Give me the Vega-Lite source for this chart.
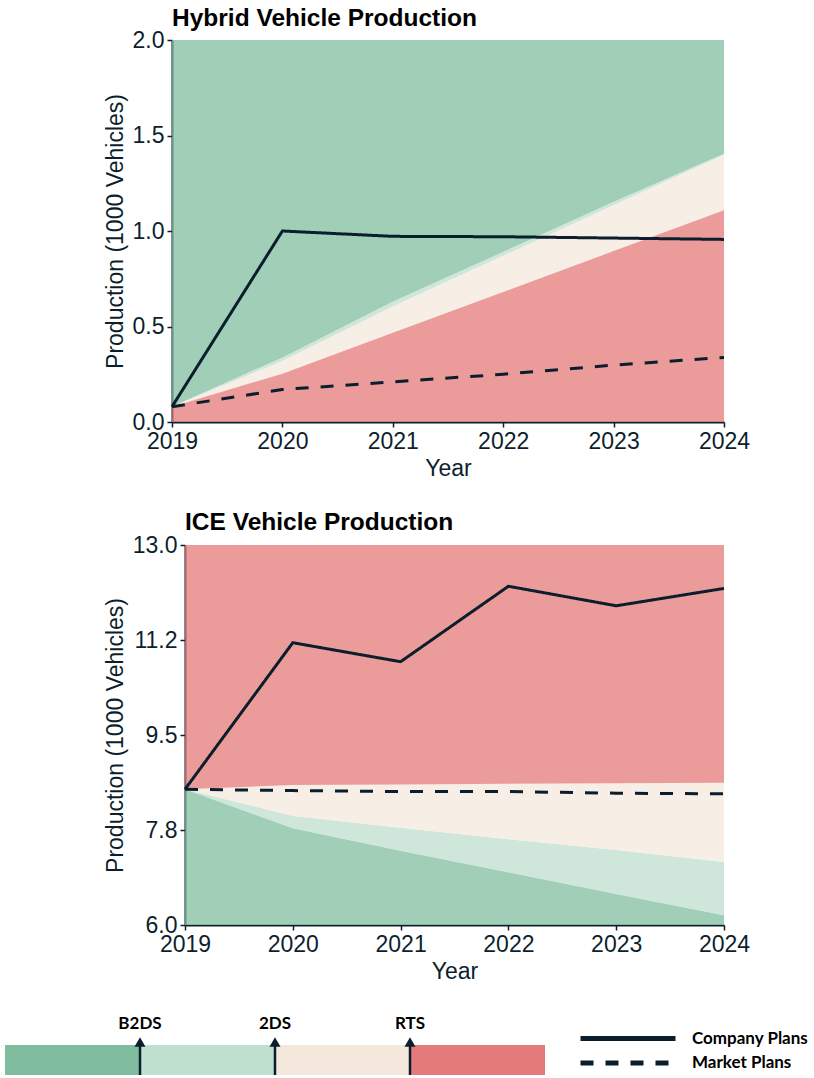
{
  "$schema": "https://vega.github.io/schema/vega-lite/v6.json",
  "background": "white",
  "padding": {"left": 5, "top": 5, "right": 5, "bottom": 3},
  "spacing": 29,
  "config": {
    "view": {"stroke": null},
    "font": "Liberation Sans",
    "axis": {
      "labelFont": "Liberation Sans", "labelFontSize": 23, "labelColor": "#0d1f2d", "labelFlush": false,
      "titleFont": "Liberation Sans", "titleFontSize": 23, "titleFontWeight": "normal", "titleColor": "#0d1f2d",
      "domainColor": "#0d1f2d", "domainWidth": 2, "tickColor": "#0d1f2d", "tickWidth": 1.5, "tickSize": 5,
      "grid": false, "labelPadding": 3
    },
    "title": {"font": "Liberation Sans", "fontSize": 24.5, "fontWeight": "bold", "anchor": "start", "color": "#000000", "baseline": "alphabetic", "frame": "group"}
  },
  "datasets": {
    "hybridBands": [
      {"year": 2019, "band": "Beyond B2DS", "lo": 0.08, "hi": 2.0},
      {"year": 2020, "band": "Beyond B2DS", "lo": 0.337, "hi": 2.0},
      {"year": 2021, "band": "Beyond B2DS", "lo": 0.63, "hi": 2.0},
      {"year": 2022, "band": "Beyond B2DS", "lo": 0.89, "hi": 2.0},
      {"year": 2023, "band": "Beyond B2DS", "lo": 1.152, "hi": 2.0},
      {"year": 2024, "band": "Beyond B2DS", "lo": 1.405, "hi": 2.0},
      {"year": 2019, "band": "B2DS-2DS", "lo": 0.08, "hi": 0.08},
      {"year": 2020, "band": "B2DS-2DS", "lo": 0.319, "hi": 0.337},
      {"year": 2021, "band": "B2DS-2DS", "lo": 0.605, "hi": 0.63},
      {"year": 2022, "band": "B2DS-2DS", "lo": 0.87, "hi": 0.89},
      {"year": 2023, "band": "B2DS-2DS", "lo": 1.135, "hi": 1.152},
      {"year": 2024, "band": "B2DS-2DS", "lo": 1.398, "hi": 1.405},
      {"year": 2019, "band": "2DS-RTS", "lo": 0.08, "hi": 0.08},
      {"year": 2020, "band": "2DS-RTS", "lo": 0.253, "hi": 0.319},
      {"year": 2021, "band": "2DS-RTS", "lo": 0.467, "hi": 0.605},
      {"year": 2022, "band": "2DS-RTS", "lo": 0.681, "hi": 0.87},
      {"year": 2023, "band": "2DS-RTS", "lo": 0.895, "hi": 1.135},
      {"year": 2024, "band": "2DS-RTS", "lo": 1.109, "hi": 1.398},
      {"year": 2019, "band": "Beyond RTS", "lo": 0.0, "hi": 0.08},
      {"year": 2020, "band": "Beyond RTS", "lo": 0.0, "hi": 0.253},
      {"year": 2021, "band": "Beyond RTS", "lo": 0.0, "hi": 0.467},
      {"year": 2022, "band": "Beyond RTS", "lo": 0.0, "hi": 0.681},
      {"year": 2023, "band": "Beyond RTS", "lo": 0.0, "hi": 0.895},
      {"year": 2024, "band": "Beyond RTS", "lo": 0.0, "hi": 1.109}
    ],
    "hybridPlans": [
      {"year": 2019, "plan": "Company Plans", "value": 0.08},
      {"year": 2020, "plan": "Company Plans", "value": 1.0},
      {"year": 2021, "plan": "Company Plans", "value": 0.972},
      {"year": 2022, "plan": "Company Plans", "value": 0.97},
      {"year": 2023, "plan": "Company Plans", "value": 0.963},
      {"year": 2024, "plan": "Company Plans", "value": 0.956},
      {"year": 2019, "plan": "Market Plans", "value": 0.08},
      {"year": 2020, "plan": "Market Plans", "value": 0.17},
      {"year": 2021, "plan": "Market Plans", "value": 0.21},
      {"year": 2022, "plan": "Market Plans", "value": 0.25},
      {"year": 2023, "plan": "Market Plans", "value": 0.298},
      {"year": 2024, "plan": "Market Plans", "value": 0.338}
    ],
    "iceBands": [
      {"year": 2019, "band": "Beyond B2DS", "lo": 6.0, "hi": 8.5},
      {"year": 2020, "band": "Beyond B2DS", "lo": 6.0, "hi": 7.78},
      {"year": 2021, "band": "Beyond B2DS", "lo": 6.0, "hi": 7.37},
      {"year": 2022, "band": "Beyond B2DS", "lo": 6.0, "hi": 6.97},
      {"year": 2023, "band": "Beyond B2DS", "lo": 6.0, "hi": 6.57},
      {"year": 2024, "band": "Beyond B2DS", "lo": 6.0, "hi": 6.18},
      {"year": 2019, "band": "B2DS-2DS", "lo": 8.5, "hi": 8.5},
      {"year": 2020, "band": "B2DS-2DS", "lo": 7.78, "hi": 8.01},
      {"year": 2021, "band": "B2DS-2DS", "lo": 7.37, "hi": 7.79},
      {"year": 2022, "band": "B2DS-2DS", "lo": 6.97, "hi": 7.58},
      {"year": 2023, "band": "B2DS-2DS", "lo": 6.57, "hi": 7.38},
      {"year": 2024, "band": "B2DS-2DS", "lo": 6.18, "hi": 7.16},
      {"year": 2019, "band": "2DS-RTS", "lo": 8.5, "hi": 8.5},
      {"year": 2020, "band": "2DS-RTS", "lo": 8.01, "hi": 8.58},
      {"year": 2021, "band": "2DS-RTS", "lo": 7.79, "hi": 8.59},
      {"year": 2022, "band": "2DS-RTS", "lo": 7.58, "hi": 8.6},
      {"year": 2023, "band": "2DS-RTS", "lo": 7.38, "hi": 8.61},
      {"year": 2024, "band": "2DS-RTS", "lo": 7.16, "hi": 8.62},
      {"year": 2019, "band": "Beyond RTS", "lo": 8.5, "hi": 13.0},
      {"year": 2020, "band": "Beyond RTS", "lo": 8.58, "hi": 13.0},
      {"year": 2021, "band": "Beyond RTS", "lo": 8.59, "hi": 13.0},
      {"year": 2022, "band": "Beyond RTS", "lo": 8.6, "hi": 13.0},
      {"year": 2023, "band": "Beyond RTS", "lo": 8.61, "hi": 13.0},
      {"year": 2024, "band": "Beyond RTS", "lo": 8.62, "hi": 13.0}
    ],
    "icePlans": [
      {"year": 2019, "plan": "Company Plans", "value": 8.5},
      {"year": 2020, "plan": "Company Plans", "value": 11.2},
      {"year": 2021, "plan": "Company Plans", "value": 10.85},
      {"year": 2022, "plan": "Company Plans", "value": 12.24},
      {"year": 2023, "plan": "Company Plans", "value": 11.88},
      {"year": 2024, "plan": "Company Plans", "value": 12.2},
      {"year": 2019, "plan": "Market Plans", "value": 8.5},
      {"year": 2020, "plan": "Market Plans", "value": 8.476},
      {"year": 2021, "plan": "Market Plans", "value": 8.458},
      {"year": 2022, "plan": "Market Plans", "value": 8.458},
      {"year": 2023, "plan": "Market Plans", "value": 8.428},
      {"year": 2024, "plan": "Market Plans", "value": 8.416}
    ],
    "legendBands": [
      {"band": "Beyond B2DS"},
      {"band": "B2DS-2DS"},
      {"band": "2DS-RTS"},
      {"band": "Beyond RTS"}
    ],
    "legendMarkers": [
      {"label": "B2DS", "at": "B2DS-2DS"},
      {"label": "2DS", "at": "2DS-RTS"},
      {"label": "RTS", "at": "Beyond RTS"}
    ]
  },
  "vconcat": [
    {
      "title": {"text": "Hybrid Vehicle Production", "offset": -2},
      "width": 552,
      "height": 382,
      "layer": [
        {
          "data": {"name": "hybridBands"},
          "mark": {"type": "area", "opacity": 0.75},
          "encoding": {
            "x": {"field": "year", "type": "quantitative", "scale": {"domain": [2019, 2024], "nice": false, "zero": false},
                  "axis": {"values": [2019, 2020, 2021, 2022, 2023, 2024], "format": "d", "title": "Year", "titlePadding": 4}},
            "y": {"field": "lo", "type": "quantitative", "scale": {"domain": [0, 2], "nice": false},
                  "axis": {"values": [0, 0.5, 1, 1.5, 2], "format": ".1f", "title": "Production (1000 Vehicles)", "titlePadding": 5}},
            "y2": {"field": "hi"},
            "color": {"field": "band", "type": "nominal",
                      "scale": {"domain": ["Beyond B2DS", "B2DS-2DS", "2DS-RTS", "Beyond RTS"], "range": ["#80bd9f", "#bfdfcf", "#f4e8dc", "#e57a7a"]},
                      "legend": null}
          }
        },
        {
          "data": {"name": "hybridPlans"},
          "mark": {"type": "line", "strokeWidth": 3, "color": "#0b1e2d"},
          "encoding": {
            "x": {"field": "year", "type": "quantitative"},
            "y": {"field": "value", "type": "quantitative"},
            "strokeDash": {"field": "plan", "type": "nominal",
              "scale": {"domain": ["Company Plans", "Market Plans"], "range": [[1, 0], [13, 12]]},
              "legend": {
                "orient": "none", "legendX": 406, "legendY": 988.5, "title": null, "padding": 0,
                "symbolType": "stroke", "symbolSize": 9025, "symbolStrokeWidth": 5, "symbolStrokeColor": "#0b1e2d",
                "labelFont": "Lato", "labelFontWeight": "bold", "labelFontSize": 17, "labelColor": "#000000",
                "labelOffset": 14, "clipHeight": 20, "rowPadding": 4.5,
                "encode": {"symbols": {"update": {"strokeDash": {"signal": "datum.value === 'Market Plans' ? [21, 13] : [1, 0]"}}}}
              }
            }
          }
        }
      ]
    },
    {
      "title": {"text": "ICE Vehicle Production", "dx": 13, "offset": -1},
      "width": 552,
      "height": 380,
      "layer": [
        {
          "data": {"name": "iceBands"},
          "mark": {"type": "area", "opacity": 0.75},
          "encoding": {
            "x": {"field": "year", "type": "quantitative", "scale": {"domain": [2019, 2024], "range": [13, 552], "nice": false, "zero": false},
                  "axis": {"values": [2019, 2020, 2021, 2022, 2023, 2024], "format": "d", "title": "Year", "titlePadding": 4}},
            "y": {"field": "lo", "type": "quantitative", "scale": {"domain": [6, 13], "nice": false, "zero": false},
                  "axis": {"values": [6, 7.75, 9.5, 11.25, 13], "labelExpr": "datum.value == 11.25 ? '11.2' : format(datum.value, '.1f')",
                           "title": "Production (1000 Vehicles)", "titlePadding": 5, "offset": -13}},
            "y2": {"field": "hi"},
            "color": {"field": "band", "type": "nominal", "legend": null}
          }
        },
        {
          "data": {"name": "icePlans"},
          "mark": {"type": "line", "strokeWidth": 3, "color": "#0b1e2d"},
          "encoding": {
            "x": {"field": "year", "type": "quantitative"},
            "y": {"field": "value", "type": "quantitative"},
            "strokeDash": {"field": "plan", "type": "nominal"}
          }
        }
      ]
    },
    {
      "width": 552,
      "height": 63,
      "layer": [
        {
          "data": {"name": "legendBands"},
          "mark": {"type": "rect"},
          "encoding": {
            "x": {"field": "band", "type": "nominal", "sort": null,
                  "scale": {"domain": ["Beyond B2DS", "B2DS-2DS", "2DS-RTS", "Beyond RTS"], "range": [-167, 373], "paddingInner": 0, "paddingOuter": 0},
                  "axis": null},
            "y": {"datum": 0, "type": "quantitative", "scale": {"domain": [0, 63], "nice": false}, "axis": null},
            "y2": {"datum": 30},
            "color": {"field": "band", "type": "nominal", "legend": null}
          }
        },
        {
          "data": {"name": "legendMarkers"},
          "mark": {"type": "rule", "strokeWidth": 2.5, "color": "#0b1e2d"},
          "encoding": {
            "x": {"field": "at", "type": "nominal", "bandPosition": 0},
            "y": {"datum": 0, "type": "quantitative"},
            "y2": {"datum": 32}
          }
        },
        {
          "data": {"name": "legendMarkers"},
          "mark": {"type": "point", "shape": "triangle-up", "filled": true, "size": 120, "color": "#0b1e2d", "opacity": 1},
          "encoding": {
            "x": {"field": "at", "type": "nominal", "bandPosition": 0},
            "y": {"datum": 33, "type": "quantitative"}
          }
        },
        {
          "data": {"name": "legendMarkers"},
          "mark": {"type": "text", "font": "Lato", "fontWeight": "bold", "fontSize": 17, "baseline": "middle", "color": "#000000"},
          "encoding": {
            "x": {"field": "at", "type": "nominal", "bandPosition": 0},
            "y": {"datum": 51, "type": "quantitative"},
            "text": {"field": "label"}
          }
        }
      ]
    }
  ]
}
